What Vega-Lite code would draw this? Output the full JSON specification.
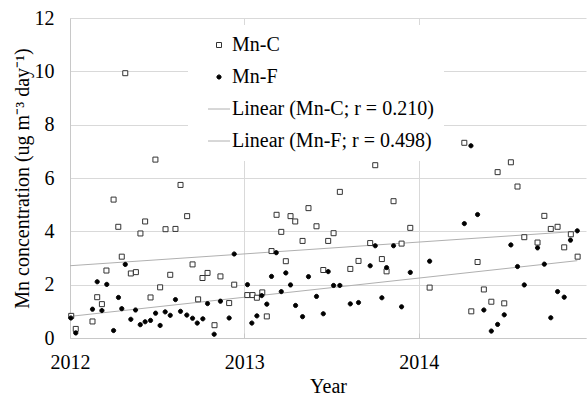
{
  "$schema": "https://vega.github.io/schema/vega-lite/v6.json",
  "width": 516,
  "height": 320,
  "autosize": {"type": "none"},
  "padding": {"left": 70, "top": 18, "right": 1, "bottom": 58},
  "background": "white",
  "config": {
    "view": {"stroke": null},
    "font": "Liberation Serif",
    "axis": {"labelFont": "Liberation Serif", "titleFont": "Liberation Serif", "labelFontSize": 20, "titleFontSize": 20, "labelColor": "black", "titleColor": "black", "titleFontWeight": "normal", "gridColor": "#d9d9d9", "domainColor": "#c8c8c8", "tickColor": "#c8c8c8"},
    "legend": {"labelFont": "Liberation Serif", "labelFontSize": 20, "labelColor": "black", "labelLimit": 400, "title": null, "orient": "none", "legendX": 118, "legendY": 7, "fillColor": "white", "padding": 10, "symbolSize": 100, "symbolOffset": 11, "labelOffset": 3, "rowPadding": 12, "symbolStrokeWidth": 1, "symbolOpacity": 1}
  },
  "datasets": {
    "pts": [
      {"year": 2012.007, "value": 0.83, "series": "Mn-C"},
      {"year": 2012.033, "value": 0.34, "series": "Mn-C"},
      {"year": 2012.129, "value": 0.62, "series": "Mn-C"},
      {"year": 2012.156, "value": 1.53, "series": "Mn-C"},
      {"year": 2012.183, "value": 1.27, "series": "Mn-C"},
      {"year": 2012.209, "value": 2.53, "series": "Mn-C"},
      {"year": 2012.250, "value": 5.19, "series": "Mn-C"},
      {"year": 2012.277, "value": 4.17, "series": "Mn-C"},
      {"year": 2012.297, "value": 3.05, "series": "Mn-C"},
      {"year": 2012.317, "value": 9.93, "series": "Mn-C"},
      {"year": 2012.349, "value": 2.42, "series": "Mn-C"},
      {"year": 2012.378, "value": 2.47, "series": "Mn-C"},
      {"year": 2012.404, "value": 3.92, "series": "Mn-C"},
      {"year": 2012.431, "value": 4.37, "series": "Mn-C"},
      {"year": 2012.462, "value": 1.52, "series": "Mn-C"},
      {"year": 2012.490, "value": 6.69, "series": "Mn-C"},
      {"year": 2012.517, "value": 1.90, "series": "Mn-C"},
      {"year": 2012.548, "value": 4.08, "series": "Mn-C"},
      {"year": 2012.575, "value": 2.37, "series": "Mn-C"},
      {"year": 2012.605, "value": 4.09, "series": "Mn-C"},
      {"year": 2012.634, "value": 5.74, "series": "Mn-C"},
      {"year": 2012.672, "value": 4.57, "series": "Mn-C"},
      {"year": 2012.703, "value": 2.76, "series": "Mn-C"},
      {"year": 2012.735, "value": 1.45, "series": "Mn-C"},
      {"year": 2012.760, "value": 2.25, "series": "Mn-C"},
      {"year": 2012.789, "value": 2.44, "series": "Mn-C"},
      {"year": 2012.829, "value": 0.48, "series": "Mn-C"},
      {"year": 2012.863, "value": 2.31, "series": "Mn-C"},
      {"year": 2012.913, "value": 1.31, "series": "Mn-C"},
      {"year": 2012.942, "value": 2.00, "series": "Mn-C"},
      {"year": 2013.017, "value": 1.61, "series": "Mn-C"},
      {"year": 2013.047, "value": 1.61, "series": "Mn-C"},
      {"year": 2013.072, "value": 1.51, "series": "Mn-C"},
      {"year": 2013.103, "value": 1.71, "series": "Mn-C"},
      {"year": 2013.129, "value": 0.81, "series": "Mn-C"},
      {"year": 2013.156, "value": 3.26, "series": "Mn-C"},
      {"year": 2013.185, "value": 4.62, "series": "Mn-C"},
      {"year": 2013.212, "value": 3.98, "series": "Mn-C"},
      {"year": 2013.238, "value": 2.88, "series": "Mn-C"},
      {"year": 2013.265, "value": 4.57, "series": "Mn-C"},
      {"year": 2013.292, "value": 4.37, "series": "Mn-C"},
      {"year": 2013.334, "value": 3.64, "series": "Mn-C"},
      {"year": 2013.368, "value": 4.87, "series": "Mn-C"},
      {"year": 2013.414, "value": 4.19, "series": "Mn-C"},
      {"year": 2013.453, "value": 2.55, "series": "Mn-C"},
      {"year": 2013.481, "value": 3.64, "series": "Mn-C"},
      {"year": 2013.512, "value": 3.93, "series": "Mn-C"},
      {"year": 2013.548, "value": 5.48, "series": "Mn-C"},
      {"year": 2013.608, "value": 2.59, "series": "Mn-C"},
      {"year": 2013.655, "value": 2.89, "series": "Mn-C"},
      {"year": 2013.722, "value": 3.56, "series": "Mn-C"},
      {"year": 2013.751, "value": 6.48, "series": "Mn-C"},
      {"year": 2013.789, "value": 2.96, "series": "Mn-C"},
      {"year": 2013.816, "value": 2.50, "series": "Mn-C"},
      {"year": 2013.856, "value": 5.13, "series": "Mn-C"},
      {"year": 2013.902, "value": 3.54, "series": "Mn-C"},
      {"year": 2013.952, "value": 4.13, "series": "Mn-C"},
      {"year": 2014.063, "value": 1.89, "series": "Mn-C"},
      {"year": 2014.262, "value": 7.32, "series": "Mn-C"},
      {"year": 2014.302, "value": 1.00, "series": "Mn-C"},
      {"year": 2014.338, "value": 2.85, "series": "Mn-C"},
      {"year": 2014.374, "value": 1.82, "series": "Mn-C"},
      {"year": 2014.417, "value": 1.36, "series": "Mn-C"},
      {"year": 2014.453, "value": 6.22, "series": "Mn-C"},
      {"year": 2014.491, "value": 1.30, "series": "Mn-C"},
      {"year": 2014.529, "value": 6.59, "series": "Mn-C"},
      {"year": 2014.567, "value": 5.68, "series": "Mn-C"},
      {"year": 2014.606, "value": 3.78, "series": "Mn-C"},
      {"year": 2014.682, "value": 3.58, "series": "Mn-C"},
      {"year": 2014.721, "value": 4.58, "series": "Mn-C"},
      {"year": 2014.758, "value": 4.09, "series": "Mn-C"},
      {"year": 2014.797, "value": 4.17, "series": "Mn-C"},
      {"year": 2014.835, "value": 3.40, "series": "Mn-C"},
      {"year": 2014.873, "value": 3.89, "series": "Mn-C"},
      {"year": 2014.912, "value": 3.05, "series": "Mn-C"},
      {"year": 2012.005, "value": 0.75, "series": "Mn-F"},
      {"year": 2012.033, "value": 0.19, "series": "Mn-F"},
      {"year": 2012.129, "value": 1.08, "series": "Mn-F"},
      {"year": 2012.156, "value": 2.11, "series": "Mn-F"},
      {"year": 2012.183, "value": 1.03, "series": "Mn-F"},
      {"year": 2012.211, "value": 2.01, "series": "Mn-F"},
      {"year": 2012.250, "value": 0.28, "series": "Mn-F"},
      {"year": 2012.278, "value": 1.52, "series": "Mn-F"},
      {"year": 2012.297, "value": 1.10, "series": "Mn-F"},
      {"year": 2012.317, "value": 2.76, "series": "Mn-F"},
      {"year": 2012.349, "value": 0.70, "series": "Mn-F"},
      {"year": 2012.376, "value": 1.05, "series": "Mn-F"},
      {"year": 2012.403, "value": 0.50, "series": "Mn-F"},
      {"year": 2012.431, "value": 0.61, "series": "Mn-F"},
      {"year": 2012.462, "value": 0.66, "series": "Mn-F"},
      {"year": 2012.491, "value": 0.93, "series": "Mn-F"},
      {"year": 2012.517, "value": 0.47, "series": "Mn-F"},
      {"year": 2012.546, "value": 0.98, "series": "Mn-F"},
      {"year": 2012.575, "value": 0.85, "series": "Mn-F"},
      {"year": 2012.605, "value": 1.44, "series": "Mn-F"},
      {"year": 2012.634, "value": 1.00, "series": "Mn-F"},
      {"year": 2012.670, "value": 0.86, "series": "Mn-F"},
      {"year": 2012.703, "value": 0.74, "series": "Mn-F"},
      {"year": 2012.730, "value": 0.56, "series": "Mn-F"},
      {"year": 2012.762, "value": 0.72, "series": "Mn-F"},
      {"year": 2012.789, "value": 1.29, "series": "Mn-F"},
      {"year": 2012.827, "value": 0.14, "series": "Mn-F"},
      {"year": 2012.863, "value": 1.38, "series": "Mn-F"},
      {"year": 2012.913, "value": 0.75, "series": "Mn-F"},
      {"year": 2012.942, "value": 3.15, "series": "Mn-F"},
      {"year": 2013.018, "value": 2.00, "series": "Mn-F"},
      {"year": 2013.043, "value": 0.56, "series": "Mn-F"},
      {"year": 2013.072, "value": 0.83, "series": "Mn-F"},
      {"year": 2013.100, "value": 1.59, "series": "Mn-F"},
      {"year": 2013.129, "value": 1.27, "series": "Mn-F"},
      {"year": 2013.156, "value": 2.31, "series": "Mn-F"},
      {"year": 2013.183, "value": 3.20, "series": "Mn-F"},
      {"year": 2013.212, "value": 1.74, "series": "Mn-F"},
      {"year": 2013.238, "value": 2.44, "series": "Mn-F"},
      {"year": 2013.265, "value": 1.99, "series": "Mn-F"},
      {"year": 2013.294, "value": 1.22, "series": "Mn-F"},
      {"year": 2013.334, "value": 0.80, "series": "Mn-F"},
      {"year": 2013.368, "value": 2.30, "series": "Mn-F"},
      {"year": 2013.414, "value": 1.56, "series": "Mn-F"},
      {"year": 2013.453, "value": 0.91, "series": "Mn-F"},
      {"year": 2013.481, "value": 2.49, "series": "Mn-F"},
      {"year": 2013.512, "value": 1.97, "series": "Mn-F"},
      {"year": 2013.548, "value": 1.97, "series": "Mn-F"},
      {"year": 2013.608, "value": 1.28, "series": "Mn-F"},
      {"year": 2013.655, "value": 1.33, "series": "Mn-F"},
      {"year": 2013.722, "value": 2.71, "series": "Mn-F"},
      {"year": 2013.751, "value": 3.46, "series": "Mn-F"},
      {"year": 2013.789, "value": 1.51, "series": "Mn-F"},
      {"year": 2013.816, "value": 2.64, "series": "Mn-F"},
      {"year": 2013.856, "value": 3.46, "series": "Mn-F"},
      {"year": 2013.902, "value": 1.17, "series": "Mn-F"},
      {"year": 2013.952, "value": 2.46, "series": "Mn-F"},
      {"year": 2014.063, "value": 2.88, "series": "Mn-F"},
      {"year": 2014.262, "value": 4.29, "series": "Mn-F"},
      {"year": 2014.300, "value": 7.21, "series": "Mn-F"},
      {"year": 2014.338, "value": 4.63, "series": "Mn-F"},
      {"year": 2014.374, "value": 1.05, "series": "Mn-F"},
      {"year": 2014.417, "value": 0.26, "series": "Mn-F"},
      {"year": 2014.453, "value": 0.51, "series": "Mn-F"},
      {"year": 2014.491, "value": 0.87, "series": "Mn-F"},
      {"year": 2014.529, "value": 3.49, "series": "Mn-F"},
      {"year": 2014.567, "value": 2.68, "series": "Mn-F"},
      {"year": 2014.606, "value": 1.99, "series": "Mn-F"},
      {"year": 2014.682, "value": 3.38, "series": "Mn-F"},
      {"year": 2014.721, "value": 2.77, "series": "Mn-F"},
      {"year": 2014.758, "value": 0.76, "series": "Mn-F"},
      {"year": 2014.797, "value": 1.74, "series": "Mn-F"},
      {"year": 2014.835, "value": 1.53, "series": "Mn-F"},
      {"year": 2014.871, "value": 3.67, "series": "Mn-F"},
      {"year": 2014.910, "value": 4.02, "series": "Mn-F"}
    ],
    "trend": [
      {"year": 2012.0, "value": 2.71, "series": "Linear (Mn-C; r = 0.210)"},
      {"year": 2014.91, "value": 4.00, "series": "Linear (Mn-C; r = 0.210)"},
      {"year": 2012.0, "value": 0.81, "series": "Linear (Mn-F; r = 0.498)"},
      {"year": 2014.91, "value": 2.90, "series": "Linear (Mn-F; r = 0.498)"}
    ]
  },
  "layer": [
    {
      "data": {"name": "trend"},
      "mark": {"type": "line", "strokeWidth": 1},
      "encoding": {
        "x": {"field": "year", "type": "quantitative", "scale": {"domain": [2012, 2014.96], "nice": false, "zero": false},
          "axis": {"values": [2012, 2012.5, 2013, 2013.5, 2014, 2014.5], "labelExpr": "datum.value % 1 === 0 ? datum.label : ''", "format": "d", "title": "Year", "titlePadding": 4, "labelPadding": 19, "tickSize": -5, "grid": true, "gridOpacity": {"condition": {"test": "datum.value % 1 !== 0", "value": 0}, "value": 1}, "labelFlush": false}},
        "y": {"field": "value", "type": "quantitative", "scale": {"domain": [0, 12], "nice": false},
          "axis": {"values": [0, 2, 4, 6, 8, 10, 12], "title": "Mn concentration (ug m⁻³ day⁻¹)", "ticks": false, "labelPadding": 16, "titlePadding": 2, "grid": true}},
        "stroke": {"field": "series", "type": "nominal",
          "scale": {"domain": ["Mn-C", "Mn-F", "Linear (Mn-C; r = 0.210)", "Linear (Mn-F; r = 0.498)"], "range": ["#333333", "#000000", "#b0b0b0", "#b0b0b0"]}}
      }
    },
    {
      "data": {"name": "pts"},
      "mark": {"type": "point", "filled": true, "opacity": 1, "strokeWidth": 1, "size": 100},
      "encoding": {
        "x": {"field": "year", "type": "quantitative"},
        "y": {"field": "value", "type": "quantitative"},
        "shape": {"field": "series", "type": "nominal",
          "scale": {"domain": ["Mn-C", "Mn-F", "Linear (Mn-C; r = 0.210)", "Linear (Mn-F; r = 0.498)"],
            "range": ["M-0.5,-0.5L0.5,-0.5L0.5,0.5L-0.5,0.5Z", "M-0.42,0A0.42,0.42,0,1,1,0.42,0A0.42,0.42,0,1,1,-0.42,0Z", "M-2.2,0L2.2,0", "M-2.2,0L2.2,0"]}},
        "fill": {"field": "series", "type": "nominal",
          "scale": {"domain": ["Mn-C", "Mn-F", "Linear (Mn-C; r = 0.210)", "Linear (Mn-F; r = 0.498)"], "range": ["#ffffff", "#000000", "transparent", "transparent"]}},
        "stroke": {"field": "series", "type": "nominal"}
      }
    }
  ]
}
